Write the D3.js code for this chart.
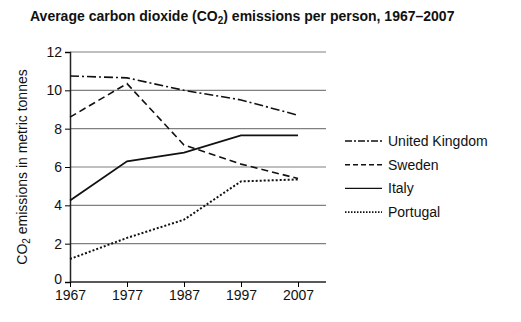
<!DOCTYPE html>
<html>
<head>
<meta charset="utf-8">
<script src="https://cdn.jsdelivr.net/npm/d3@7"></script>
<style>
  body { margin: 0; background: #fff; }
  text { font-family: "Liberation Sans", Arial, sans-serif; fill: #111; }
</style>
</head>
<body>
<script>
var years = [1967, 1977, 1987, 1997, 2007];
var uk = [10.75, 10.65, 10.0, 9.5, 8.7];
var sweden = [8.6, 10.35, 7.15, 6.15, 5.4];
var italy = [4.25, 6.3, 6.75, 7.65, 7.65];
var portugal = [1.2, 2.3, 3.25, 5.25, 5.35];
var seriesNames = ["United Kingdom", "Sweden", "Italy", "Portugal"];
var yTicks = [0, 2, 4, 6, 8, 10, 12];

var svgWidth = 521, svgHeight = 322;
var margin = {top: 52, left: 70, right: 195, bottom: 40};

var svg = d3.select("body").append("svg")
  .attr("width", svgWidth)
  .attr("height", svgHeight);

var x = d3.scaleLinear().domain([1967, 2007]).range([margin.left, 298]);
var y = d3.scaleLinear().domain([0, 12]).range([282, margin.top]);
var gridEnd = 326;

// title
svg.append("text")
  .attr("x", 30).attr("y", 21)
  .attr("font-size", "14px").attr("font-weight", "bold")
  .html('Average carbon dioxide (CO<tspan font-size="10px" dy="3">2</tspan><tspan dy="-3">) emissions per person, 1967\u20132007</tspan>');

// gridlines
svg.append("g").selectAll("line")
  .data(yTicks.filter(d => d > 0))
  .enter().append("line")
  .attr("x1", margin.left).attr("x2", gridEnd)
  .attr("y1", d => y(d)).attr("y2", d => y(d))
  .attr("stroke", "#808080").attr("stroke-width", 1.2);

// y axis
var yAxis = svg.append("g")
  .attr("transform", "translate(" + margin.left + ",0)")
  .call(d3.axisLeft(y).tickValues(yTicks).tickSize(5).tickPadding(3));
yAxis.select(".domain").attr("stroke", "#222").attr("stroke-width", 1.5);
yAxis.selectAll("text").attr("font-size", "14px").attr("fill", "#111")
  .attr("font-family", "Liberation Sans, Arial, sans-serif");
yAxis.selectAll(".tick").filter(d => d === 0).select("text").attr("dy", "0.1em");

// x axis
var xAxis = svg.append("g")
  .attr("transform", "translate(0," + y(0) + ")")
  .call(d3.axisBottom(x).tickValues(years).tickFormat(d3.format("d")).tickSize(5).tickSizeOuter(0).tickPadding(3));
xAxis.select(".domain").attr("d", "M" + margin.left + ",0H" + gridEnd)
  .attr("stroke", "#222").attr("stroke-width", 1.5);
xAxis.selectAll("text").attr("font-size", "14px").attr("fill", "#111")
  .attr("font-family", "Liberation Sans, Arial, sans-serif");

// y label
svg.append("text")
  .attr("transform", "translate(27,167) rotate(-90)")
  .attr("text-anchor", "middle")
  .attr("font-size", "14px")
  .html('CO<tspan font-size="10px" dy="3">2</tspan><tspan dy="-3"> emissions in metric tonnes</tspan>');

var series = [
  {name: seriesNames[0], values: uk, dash: "9,3,2,3"},
  {name: seriesNames[1], values: sweden, dash: "7,4"},
  {name: seriesNames[2], values: italy, dash: null},
  {name: seriesNames[3], values: portugal, dash: "2,2"}
];

var line = d3.line()
  .x((d, i) => x(years[i]))
  .y(d => y(d));

svg.append("g").selectAll("path")
  .data(series)
  .enter().append("path")
  .attr("d", d => line(d.values))
  .attr("fill", "none")
  .attr("stroke", "#111")
  .attr("stroke-width", d => d.dash === "2,2" ? 2 : d.dash === null ? 1.8 : 1.6)
  .attr("stroke-dasharray", d => d.dash);

// legend
var legend = svg.append("g").selectAll("g")
  .data(series)
  .enter().append("g")
  .attr("transform", (d, i) => "translate(345," + (141 + i * 23.7) + ")");

legend.append("line")
  .attr("x1", 0).attr("x2", 37)
  .attr("stroke", "#111")
  .attr("stroke-width", d => d.dash === "2,2" ? 1.6 : 1.4)
  .attr("stroke-dasharray", d => d.dash === "9,3,2,3" ? "7,2,2,2" : d.dash === "7,4" ? "5,3" : d.dash === "2,2" ? "1.5,1.5" : null);

legend.append("text")
  .attr("x", 43).attr("y", 5)
  .attr("font-size", "14px")
  .text(d => d.name);
</script>
</body>
</html>
